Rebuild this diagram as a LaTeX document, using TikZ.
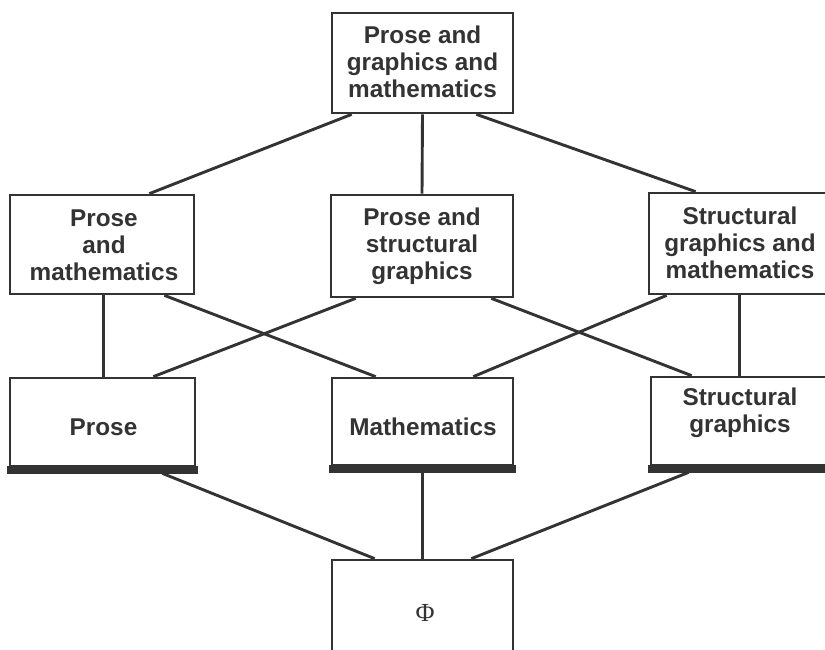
\documentclass[tikz,border=0pt]{standalone}
\usepackage{fontspec}
\setmainfont{Liberation Sans}
\newfontfamily\phifont{Liberation Serif}
\pgfdeclarelayer{paper}
\pgfdeclarelayer{links}
\pgfsetlayers{paper,links,main}
\begin{document}
\begin{tikzpicture}[x=1pt,y=-1pt,
  box/.style={draw=black!80, line width=2.7pt, fill=white, rectangle, inner sep=0pt},
  lbl/.style={align=center, font=\fontsize{24.3}{27}\selectfont\bfseries, text=black!80, inner sep=0pt},
  link/.style={draw=black!80, line width=2.9pt},
  bar/.style={fill=black!80}]

\useasboundingbox (0,0) rectangle (825,650);
\begin{pgfonlayer}{paper}
  \fill[white] (0,0) rectangle (825,650);
\end{pgfonlayer}

% --- frames of the lattice ---
\node[box, minimum width=181pt, minimum height=100pt] (top) at (422.5,63) {};
\node[box, minimum width=184pt, minimum height=99pt]  (pm)  at (102,244.5) {};
\node[box, minimum width=182pt, minimum height=102pt] (ps)  at (422,246) {};
\node[box, minimum width=196pt, minimum height=101pt] (sm)  at (747,243.5) {};
\node[box, minimum width=185pt, minimum height=88pt]  (prose) at (102.5,422) {};
\node[box, minimum width=181pt, minimum height=87pt]  (math)  at (422.5,421.5) {};
\node[box, minimum width=194pt, minimum height=88pt]  (sg)    at (748,421) {};
\node[box, minimum width=181pt, minimum height=110pt] (phi)   at (422.5,615) {};

% --- heavy base bars on the single-topic boxes ---
\foreach \n in {prose,math,sg}{
  \fill[bar] ([xshift=-1.3pt,yshift=1.5pt]\n.south west) rectangle ([xshift=1.6pt,yshift=-6.5pt]\n.south east);
}

% --- labels ---
\node[lbl] (top-t)   at (422.5,62) {Prose and\\graphics and\\mathematics};
\node[lbl] (pm-t)    at (104,245)  {Prose\\and\\mathematics};
\node[lbl] (ps-t)    at (422,246)  {Prose and\\structural\\graphics};
\node[lbl] (sm-t)    at (740,243)  {Structural\\graphics and\\mathematics};
\node[lbl] (prose-t) at (103.5,427) {Prose};
\node[lbl] (math-t)  at (423,427)  {Mathematics};
\node[lbl] (sg-t)    at (740,413)  {Structural\\graphics};
\node[font=\phifont\fontsize{26}{26}\selectfont, text=black!80, inner sep=0pt] (phi-t) at (425,613) {Φ};

% --- connectors ---
\begin{pgfonlayer}{links}
  \draw[link] ([xshift=21pt]top.south west) -- ([xshift=-46pt]pm.north east);
  \draw[link] (top.south) -- (ps.north);
  \draw[link] ([xshift=-38pt]top.south east) -- ([xshift=48pt]sm.north west);

  \draw[link] ([xshift=95pt]pm.south west) -- ([xshift=95pt]prose.north west);
  \draw[link] ([xshift=-31pt]pm.south east) -- ([xshift=45pt]math.north west);
  \draw[link] ([xshift=26pt]ps.south west) -- ([xshift=-43pt]prose.north east);
  \draw[link] ([xshift=-23pt]ps.south east) -- ([xshift=42pt]sg.north west);
  \draw[link] ([xshift=19pt]sm.south west) -- ([xshift=-41pt]math.north east);
  \draw[link] ([xshift=92pt]sm.south west) -- ([xshift=90pt]sg.north west);

  \draw[link] ([xshift=-34pt,yshift=-6pt]prose.south east) -- ([xshift=44pt]phi.north west);
  \draw[link] (math.south) -- (phi.north);
  \draw[link] ([xshift=39pt,yshift=-6pt]sg.south west) -- ([xshift=-43pt]phi.north east);
\end{pgfonlayer}
\end{tikzpicture}
\end{document}
